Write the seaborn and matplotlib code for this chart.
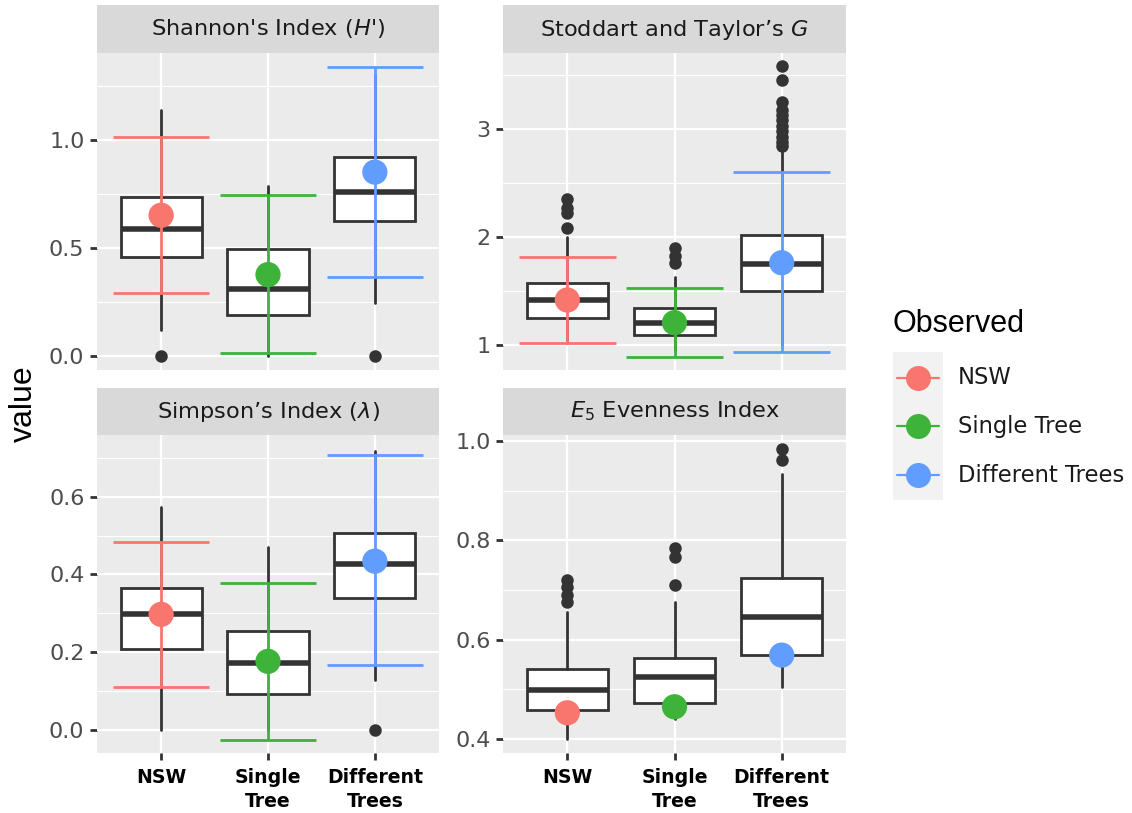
import numpy as np
import matplotlib
matplotlib.use("Agg")
import matplotlib.pyplot as plt
from matplotlib.lines import Line2D
from matplotlib.patches import Rectangle
import seaborn as sns

sns.set_theme(style="darkgrid")
plt.rcParams["font.family"] = ["DejaVu Sans"]
plt.rcParams["mathtext.fontset"] = "dejavusans"

# ---------------- data ----------------
groups = ["NSW", "Single\nTree", "Different\nTrees"]
legend_labels = ["NSW", "Single Tree", "Different Trees"]
colors = ["#F8766D", "#3DB33A", "#619CFF"]

titles = ["Shannon's Index ($H$')", "Stoddart and Taylor\u2019s $G$",
          "Simpson\u2019s Index ($\\lambda$)", "$E_5$ Evenness Index"]

# Shannon
sh_whislo = [0.12, 0.0, 0.244]
sh_q1 = [0.458, 0.19, 0.622]
sh_med = [0.588, 0.31, 0.758]
sh_q3 = [0.733, 0.495, 0.92]
sh_whishi = [1.139, 0.784, 1.30]
sh_fliers = [[0.0], [], [0.0]]
sh_obs = [0.65, 0.375, 0.85]
sh_lo = [0.29, 0.01, 0.364]
sh_hi = [1.012, 0.742, 1.335]

# Stoddart and Taylor's G
st_whislo = [1.02, 0.95, 1.0]
st_q1 = [1.253, 1.093, 1.50]
st_med = [1.417, 1.207, 1.747]
st_q3 = [1.571, 1.34, 2.018]
st_whishi = [1.997, 1.632, 2.806]
st_fliers = [[2.08, 2.22, 2.27, 2.35], [1.757, 1.82, 1.895],
             [2.84, 2.88, 2.93, 2.98, 3.03, 3.08, 3.13, 3.18, 3.25, 3.45, 3.58]]
st_obs = [1.417, 1.207, 1.762]
st_lo = [1.021, 0.886, 0.932]
st_hi = [1.818, 1.525, 2.605]

# Simpson
si_whislo = [0.0, 0.0, 0.127]
si_q1 = [0.207, 0.091, 0.338]
si_med = [0.297, 0.173, 0.427]
si_q3 = [0.366, 0.254, 0.506]
si_whishi = [0.574, 0.471, 0.718]
si_fliers = [[], [], [0.0]]
si_obs = [0.297, 0.176, 0.434]
si_lo = [0.11, -0.026, 0.166]
si_hi = [0.483, 0.379, 0.708]

# E5 evenness
e5_whislo = [0.40, 0.44, 0.505]
e5_q1 = [0.458, 0.473, 0.569]
e5_med = [0.499, 0.525, 0.645]
e5_q3 = [0.541, 0.564, 0.725]
e5_whishi = [0.655, 0.676, 0.933]
e5_fliers = [[0.676, 0.69, 0.706, 0.72], [0.711, 0.767, 0.784], [0.961, 0.983]]
e5_obs = [0.453, 0.465, 0.569]

panels = [
    dict(whislo=sh_whislo, q1=sh_q1, med=sh_med, q3=sh_q3, whishi=sh_whishi, fliers=sh_fliers,
         obs=sh_obs, lo=sh_lo, hi=sh_hi, ylim=(-0.067, 1.402),
         major=[0.0, 0.5, 1.0], minor=[0.25, 0.75, 1.25], fmt="{:.1f}"),
    dict(whislo=st_whislo, q1=st_q1, med=st_med, q3=st_q3, whishi=st_whishi, fliers=st_fliers,
         obs=st_obs, lo=st_lo, hi=st_hi, ylim=(0.769, 3.704),
         major=[1, 2, 3], minor=[1.5, 2.5, 3.5], fmt="{:.0f}"),
    dict(whislo=si_whislo, q1=si_q1, med=si_med, q3=si_q3, whishi=si_whishi, fliers=si_fliers,
         obs=si_obs, lo=si_lo, hi=si_hi, ylim=(-0.060, 0.759),
         major=[0.0, 0.2, 0.4, 0.6], minor=[0.1, 0.3, 0.5, 0.7], fmt="{:.1f}"),
    dict(whislo=e5_whislo, q1=e5_q1, med=e5_med, q3=e5_q3, whishi=e5_whishi, fliers=e5_fliers,
         obs=e5_obs, lo=None, hi=None, ylim=(0.372, 1.012),
         major=[0.4, 0.6, 0.8, 1.0], minor=[0.5, 0.7, 0.9], fmt="{:.1f}"),
]

# ---------------- layout ----------------
W, H = 1132, 813
fig = plt.figure(figsize=(W / 100, H / 100), dpi=100)
fig.patch.set_facecolor("white")

def fx(px):
    return px / W

def fy(py):
    return 1 - py / H

# (left, right, top, bottom) in pixels for plot area; strip top
boxes = [(97, 439, 53, 370, 5), (503, 846, 53, 370, 5),
         (97, 439, 435, 753, 388), (503, 846, 435, 753, 388)]

panel_bg = "#EBEBEB"
strip_bg = "#D9D9D9"
x = np.arange(3)

for i, (p, (l, r, t, b, st)) in enumerate(zip(panels, boxes)):
    ax = fig.add_axes([fx(l), fy(b), fx(r - l), (b - t) / H])
    ax.set_facecolor(panel_bg)
    ax.grid(False)
    for s in ax.spines.values():
        s.set_visible(False)
    ax.set_xlim(-0.6, 2.6)
    ax.set_ylim(*p["ylim"])
    # grid lines
    for m in p["minor"]:
        ax.axhline(m, color="white", lw=0.8, zorder=0.5)
    for m in p["major"]:
        ax.axhline(m, color="white", lw=1.6, zorder=0.6)
    for xi in x:
        ax.axvline(xi, color="white", lw=1.6, zorder=0.6)

    stats = []
    for k in range(3):
        stats.append(dict(med=p["med"][k], q1=p["q1"][k], q3=p["q3"][k],
                          whislo=p["whislo"][k], whishi=p["whishi"][k],
                          fliers=p["fliers"][k]))
    ax.bxp(stats, positions=x, widths=0.76, patch_artist=True, showcaps=False,
           boxprops=dict(facecolor="white", edgecolor="#333333", lw=2.0),
           whiskerprops=dict(color="#333333", lw=2.0),
           medianprops=dict(color="#333333", lw=4.0),
           flierprops=dict(marker="o", markerfacecolor="#333333", markeredgecolor="#333333",
                           markersize=8, linestyle="none"),
           zorder=2, manage_ticks=False)

    if p["lo"] is not None:
        for k in range(3):
            ax.vlines(x[k], p["lo"][k], p["hi"][k], color=colors[k], lw=2.0, zorder=3)
            ax.hlines([p["lo"][k], p["hi"][k]], x[k] - 0.45, x[k] + 0.45,
                      color=colors[k], lw=2.0, zorder=3)

    sns.scatterplot(x=x, y=p["obs"], hue=legend_labels, palette=colors, s=330,
                    edgecolor="none", legend=False, ax=ax, zorder=4)

    ax.set_yticks(p["major"])
    ax.set_yticklabels([p["fmt"].format(v) for v in p["major"]])
    ax.tick_params(axis="y", length=5, width=2.0, color="#333333", labelcolor="#4D4D4D",
                   labelsize=16, pad=4, left=True)
    if i >= 2:
        ax.set_xticks(x)
        ax.set_xticklabels(groups, fontweight="bold", fontsize=13.6, color="black",
                           linespacing=1.3)
        ax.tick_params(axis="x", length=5, width=2.0, color="#333333", pad=6, bottom=True)
    else:
        ax.set_xticks([])
    ax.set_xlabel("")
    ax.set_ylabel("")

    # strip
    sax = fig.add_axes([fx(l), fy(t), fx(r - l), (t - st) / H])
    sax.set_facecolor(strip_bg)
    sax.set_xticks([]); sax.set_yticks([])
    sax.grid(False)
    for s in sax.spines.values():
        s.set_visible(False)
    sax.text(0.5, 0.5, titles[i], ha="center", va="center", fontsize=16.2,
             color="#1A1A1A", transform=sax.transAxes)

# y label
fig.text(fx(24), fy(404), "value", rotation=90, ha="center", va="center", fontsize=23,
         color="black", family="Liberation Sans")

# legend
fig.text(fx(892), fy(324), "Observed", ha="left", va="center", fontsize=22, color="black",
         family="Liberation Sans")
fig.add_artist(Rectangle((fx(893), fy(500)), fx(50), (500 - 352) / H,
                         transform=fig.transFigure, facecolor="#F2F2F2", edgecolor="none"))
for k, (lab, c) in enumerate(zip(legend_labels, colors)):
    yy = fy(378 + k * 48.5)
    fig.add_artist(Line2D([fx(897), fx(939)], [yy, yy], transform=fig.transFigure,
                          color=c, lw=1.6))
    fig.add_artist(Line2D([fx(918)], [yy], transform=fig.transFigure, marker="o",
                          markersize=18, color=c, markeredgewidth=0, linestyle="none"))
    fig.text(fx(958), yy, lab, ha="left", va="center", fontsize=16.3, color="#1A1A1A")

fig.savefig("out.png", dpi=100, facecolor="white")
